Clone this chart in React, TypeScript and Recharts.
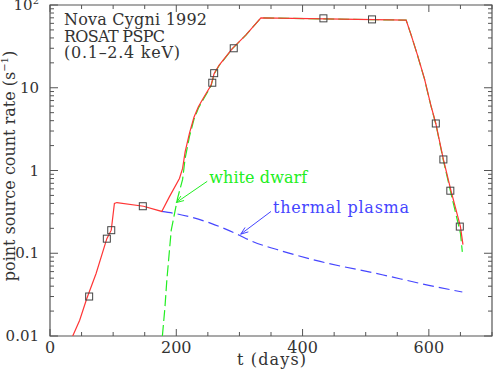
import React from 'react';
import { ComposedChart, Line, Scatter, XAxis, YAxis, ReferenceLine, ReferenceArea } from 'recharts';

// observed count rates (squares)
const obsDays = [62, 90, 97, 147, 257, 260, 291, 433, 510, 611, 623, 634, 649];
const obsRate = [0.03, 0.15, 0.19, 0.37, 11.5, 15, 30, 69, 67, 3.7, 1.36, 0.57, 0.21];

// total model (red)
const totalDays = [36, 47, 58, 73, 90, 97, 102, 106, 148, 177, 189, 205, 210, 214, 221, 228, 235, 242, 255, 260, 268, 289, 310, 334, 564, 572, 582, 593, 603, 611, 623, 635, 650, 654];
const totalRate = [0.01, 0.0155, 0.028, 0.057, 0.15, 0.19, 0.4, 0.41, 0.37, 0.32, 0.48, 0.8, 1.06, 1.68, 2.85, 4.4, 5.9, 7.3, 10.7, 14.9, 18.8, 29.9, 43.3, 70, 65.7, 43.3, 24.8, 12.9, 6.2, 3.7, 1.36, 0.57, 0.21, 0.127];

// white dwarf component (green dashed)
const wdDays = [178, 182, 185, 192, 202, 210, 214, 221, 228, 235, 242, 255, 260, 268, 289, 310, 334, 564, 572, 582, 593, 603, 611, 623, 635, 650, 653];
const wdRate = [0.01, 0.022, 0.047, 0.19, 0.46, 0.78, 1.4, 2.6, 4.15, 5.65, 7.06, 10.47, 14.7, 18.6, 29.7, 43.1, 69.8, 65.6, 43.2, 24.7, 12.8, 6.15, 3.65, 1.32, 0.53, 0.175, 0.104];

// thermal plasma component (blue dashed)
const plasmaDays = [177, 200, 255, 300, 316, 368, 421, 526, 600, 653];
const plasmaRate = [0.32, 0.3, 0.23, 0.165, 0.144, 0.106, 0.082, 0.055, 0.041, 0.034];

const xTicks = [0, 50, 100, 150, 200, 250, 300, 350, 400, 450, 500, 550, 600, 650, 700];
const xLabelTicks = [0, 200, 400, 600];
const yMajor = [0.01, 0.1, 1, 10, 100];
const yMajorLabels = ['0.01', '0.1', '1', '10', '10'];

const yTicks: number[] = [];
yMajor.forEach((d, i) => {
    yTicks.push(d);
    if (i < yMajor.length - 1) {
        for (let k = 2; k <= 9; k++) yTicks.push(+(d * k).toPrecision(3));
    }
});

const toRows = (days: number[], vals: number[]) => days.map((t, i) => ({ t, v: vals[i] }));
const obs = toRows(obsDays, obsRate);
const total = toRows(totalDays, totalRate);
const wd = toRows(wdDays, wdRate);
const plasma = toRows(plasmaDays, plasmaRate);

const W = 499;
const H = 373;
const LEFT = 50;
const RIGHT = 492;
const TOP = 5;
const BOTTOM = 336;
const AXIS = '#555';
const TEXT = '#333';
const FONT = '"DejaVu Serif", serif';

const XTick = ({ x, payload }: any) => {
    const major = xLabelTicks.includes(payload.value);
    const len = major ? 7 : 4;
    return (
        <g>
            <line x1={x} y1={BOTTOM} x2={x} y2={BOTTOM - len} stroke={AXIS} />
            <line x1={x} y1={TOP} x2={x} y2={TOP + len} stroke={AXIS} />
            {major && (
                <text x={x} y={353} textAnchor="middle" fontSize={16} fontFamily={FONT} fill={TEXT}>
                    {payload.value}
                </text>
            )}
        </g>
    );
};

const YTick = ({ y, payload }: any) => {
    const idx = yMajor.findIndex((m) => Math.abs(m - payload.value) < 1e-9);
    const major = idx >= 0;
    const len = major ? 8 : 4;
    return (
        <g>
            <line x1={LEFT} y1={y} x2={LEFT + len} y2={y} stroke={AXIS} />
            <line x1={RIGHT} y1={y} x2={RIGHT - len} y2={y} stroke={AXIS} />
            {major && (
                <text x={39} y={y + 5} textAnchor="end" fontSize={15} fontFamily={FONT} fill={TEXT}>
                    {yMajorLabels[idx]}
                    {payload.value === 100 && (
                        <tspan fontSize={10} dy={-6}>
                            2
                        </tspan>
                    )}
                </text>
            )}
        </g>
    );
};

const arrow = (label: string, color: string, len: number) => (p: any) => {
    const { x1, y1, x2, y2 } = p;
    const a = Math.atan2(y2 - y1, x2 - x1);
    const h = 8;
    const s = 0.35;
    return (
        <g>
            <line x1={x1} y1={y1} x2={x2} y2={y2} stroke={color} strokeWidth={1} />
            <line x1={x2} y1={y2} x2={x2 - h * Math.cos(a - s)} y2={y2 - h * Math.sin(a - s)} stroke={color} />
            <line x1={x2} y1={y2} x2={x2 - h * Math.cos(a + s)} y2={y2 - h * Math.sin(a + s)} stroke={color} />
            <text x={x1 + 2} y={y1 + 2} fontSize={16} fontFamily={FONT} fill={color} textLength={len} lengthAdjust="spacing">
                {label}
            </text>
        </g>
    );
};

const Square = ({ cx, cy }: any) => (
    <rect x={cx - 3.5} y={cy - 3.5} width={7} height={7} fill="none" stroke="#444" strokeWidth={1} />
);

export default function App() {
    return (
        <div style={{ position: 'absolute', left: 0, top: 0, width: W, height: H, background: '#fff' }}>
            <ComposedChart width={W} height={H} margin={{ top: TOP, right: W - RIGHT, left: 0, bottom: 0 }}>
                <XAxis
                    dataKey="t"
                    type="number"
                    domain={[0, 700]}
                    ticks={xTicks}
                    interval={0}
                    height={H - BOTTOM}
                    tickLine={false}
                    axisLine={false}
                    tick={<XTick />}
                    allowDataOverflow
                />
                <YAxis
                    dataKey="v"
                    type="number"
                    scale="log"
                    domain={[0.01, 100]}
                    ticks={yTicks}
                    interval={0}
                    width={LEFT}
                    tickLine={false}
                    axisLine={false}
                    tick={<YTick />}
                    allowDataOverflow
                />
                <ReferenceArea x1={0} x2={700} y1={0.01} y2={100} fill="none" stroke={AXIS} strokeWidth={1.2} />
                <Line data={wd} dataKey="v" type="linear" stroke="#22ee22" strokeWidth={1.2} strokeDasharray="11 4" dot={false} isAnimationActive={false} />
                <Line data={plasma} dataKey="v" type="monotone" stroke="#4545ff" strokeWidth={1.2} strokeDasharray="11 5" dot={false} isAnimationActive={false} />
                <Line data={total} dataKey="v" type="linear" stroke="#ff3535" strokeWidth={1.2} dot={false} isAnimationActive={false} />
                <Scatter data={obs} dataKey="v" shape={<Square />} isAnimationActive={false} />
                <ReferenceLine segment={[{ x: 249, y: 0.74 }, { x: 200, y: 0.41 }]} shape={arrow('white dwarf', '#22ee22', 98)} />
                <ReferenceLine segment={[{ x: 350, y: 0.32 }, { x: 302, y: 0.17 }]} shape={arrow('thermal plasma', '#4545ff', 136)} />
            </ComposedChart>
            <svg width={W} height={H} style={{ position: 'absolute', left: 0, top: 0, pointerEvents: 'none' }}>
                <g fontFamily={FONT} fontSize={16} fill={TEXT}>
                    <text x={64} y={25} textLength={143} lengthAdjust="spacing">Nova Cygni 1992</text>
                    <text x={64} y={42} textLength={101} lengthAdjust="spacing">ROSAT PSPC</text>
                    <text x={64} y={58} textLength={116} lengthAdjust="spacing">(0.1–2.4 keV)</text>
                    <text x={237} y={365} textLength={69} lengthAdjust="spacing">t (days)</text>
                    <text x={15} y={166} textAnchor="middle" transform="rotate(-90 15 166)">
                        point source count rate (s<tspan fontSize={10} dy={-7}>−1</tspan><tspan dy={7}>)</tspan>
                    </text>
                </g>
            </svg>
        </div>
    );
}
